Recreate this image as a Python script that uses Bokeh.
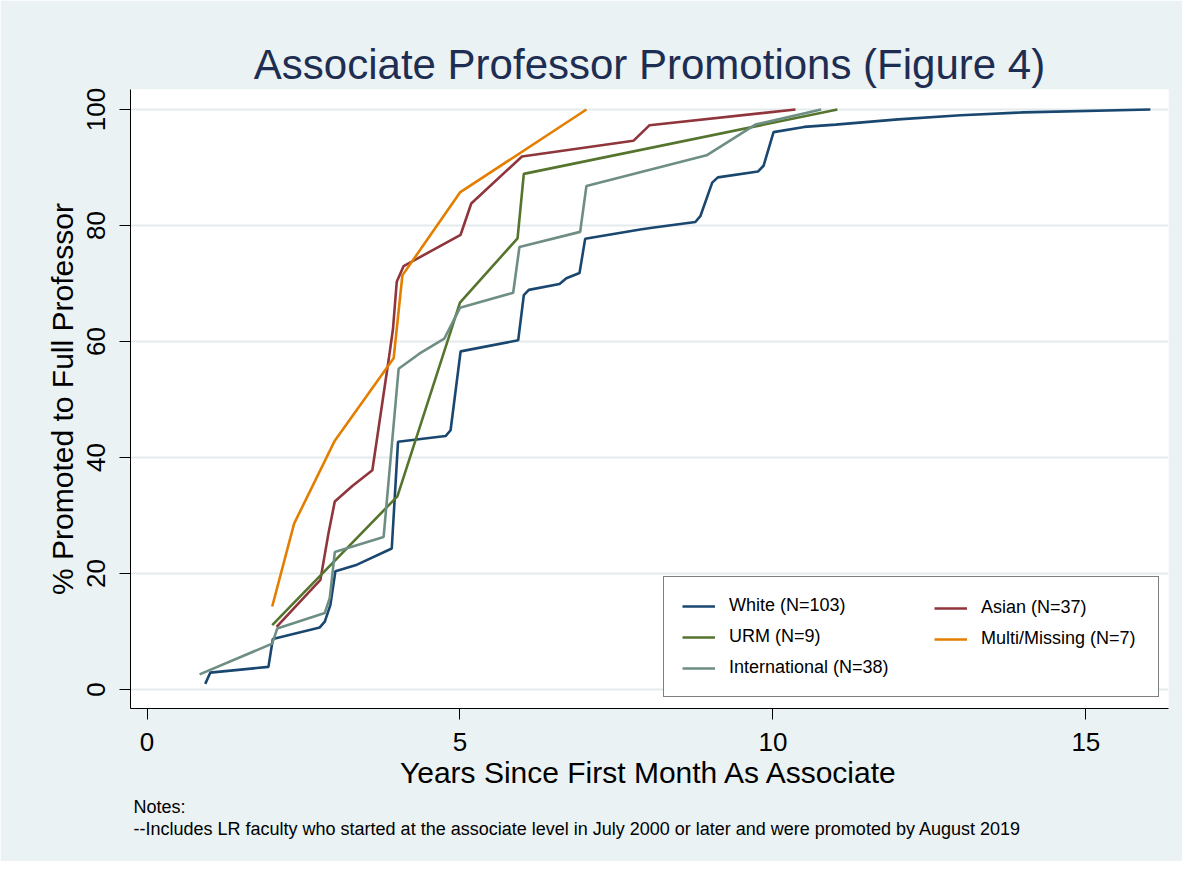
from bokeh.plotting import figure
from bokeh.models import Range1d, Legend, LegendItem, Title, FixedTicker
from bokeh.embed import file_html
from bokeh.resources import INLINE

# ---------------- data ----------------
white_x = [0.93, 1.01, 1.94, 2.01, 2.76, 2.84, 2.93, 3.01, 3.33, 3.91, 4.01, 4.77, 4.85,
           5.01, 5.93, 6.02, 6.10, 6.59, 6.70, 6.91, 7.00, 7.88, 8.07, 8.76, 8.84, 9.03,
           9.12, 9.76, 9.85, 10.01, 10.5, 11.0, 12.0, 13.0, 14.0, 16.03]
white_y = [0.97, 2.9, 3.9, 8.7, 10.7, 11.7, 14.6, 20.4, 21.4, 24.3, 42.7, 43.7, 44.7,
           58.3, 60.2, 68.0, 68.9, 69.9, 70.9, 71.8, 77.7, 79.3, 79.6, 80.6, 81.6, 87.4,
           88.3, 89.3, 90.3, 96.1, 97.0, 97.4, 98.3, 99.0, 99.5, 100.0]

asian_x = [2.07, 2.77, 2.90, 3.00, 3.28, 3.60, 3.86, 3.93, 3.99, 4.10, 5.01, 5.18, 5.99,
           7.77, 8.03, 10.36]
asian_y = [10.8, 18.9, 27.0, 32.4, 35.1, 37.8, 56.8, 62.2, 70.3, 73.0, 78.4, 83.8, 91.9,
           94.6, 97.3, 100.0]

urm_x = [2.00, 4.00, 5.00, 5.92, 6.02, 11.03]
urm_y = [11.1, 33.3, 66.7, 77.8, 88.9, 100.0]

multi_x = [2.00, 2.35, 3.00, 3.94, 4.08, 5.00, 7.02]
multi_y = [14.3, 28.6, 42.9, 57.1, 71.4, 85.7, 100.0]

intl_x = [0.84, 2.00, 2.08, 2.84, 2.92, 3.00, 3.78, 4.02, 4.35, 4.75, 5.00, 5.85, 5.95,
          6.92, 7.02, 8.94, 9.72, 10.77]
intl_y = [2.6, 7.9, 10.5, 13.2, 15.8, 23.7, 26.3, 55.3, 57.9, 60.5, 65.8, 68.4, 76.3,
          78.9, 86.8, 92.1, 97.4, 100.0]

series_names = ["White (N=103)", "Asian (N=37)", "URM (N=9)", "Multi/Missing (N=7)",
                "International (N=38)"]
x_ticks = [0, 5, 10, 15]
y_ticks = [0, 20, 40, 60, 80, 100]

title_text = "Associate Professor Promotions (Figure 4)"
x_title = "Years Since First Month As Associate"
y_title = "% Promoted to Full Professor"
note_lines = ["Notes:",
              "--Includes LR faculty who started at the associate level in July 2000 or later and were promoted by August 2019"]

# ---------------- style ----------------
FONT = "Liberation Sans"
BG = "#eaf2f3"
colors = {"white": "#1a476f", "asian": "#90353b", "urm": "#55752f",
          "multi": "#e37e00", "intl": "#6e8e84"}
LW = 2.6

p = figure(width=1182, height=861, output_backend="svg", toolbar_location=None,
           x_range=Range1d(-0.264, 16.32), y_range=Range1d(-3.28, 103.45),
           min_border_left=130, min_border_right=14, min_border_top=89,
           min_border_bottom=153)
p.border_fill_color = BG
p.background_fill_color = "white"
p.outline_line_color = None

# title
p.title.text = title_text
p.title.align = "center"
p.title.text_font = FONT
p.title.text_font_size = "42px"
p.title.text_font_style = "normal"
p.title.text_color = "#1e2d52"
p.title.standoff = 3

# grid
p.xgrid.visible = False
p.ygrid.grid_line_color = "#e3ebed"
p.ygrid.grid_line_width = 2

# axes
p.xaxis.ticker = FixedTicker(ticks=x_ticks)
p.yaxis.ticker = FixedTicker(ticks=y_ticks)
p.ygrid.ticker = FixedTicker(ticks=y_ticks)
for ax in (p.xaxis[0], p.yaxis[0]):
    ax.axis_line_color = "black"
    ax.axis_line_width = 1
    ax.major_tick_line_color = "black"
    ax.major_tick_line_width = 1
    ax.major_tick_out = 11
    ax.major_tick_in = 0
    ax.minor_tick_line_color = None
    ax.major_label_text_font = FONT
    ax.major_label_text_font_size = "26px"
    ax.major_label_text_color = "black"
    ax.axis_label_text_font = FONT
    ax.axis_label_text_font_size = "30px"
    ax.axis_label_text_font_style = "normal"
    ax.axis_label_text_color = "black"

p.xaxis.axis_label = x_title
p.yaxis.axis_label = y_title
p.xaxis.major_label_standoff = 13
p.xaxis.axis_label_standoff = 2
p.yaxis.major_label_orientation = "vertical"
p.yaxis.major_label_standoff = 14
p.yaxis.axis_label_standoff = 6

# lines
r_white = p.line(white_x, white_y, line_color=colors["white"], line_width=LW)
r_asian = p.line(asian_x, asian_y, line_color=colors["asian"], line_width=LW)
r_urm = p.line(urm_x, urm_y, line_color=colors["urm"], line_width=LW)
r_multi = p.line(multi_x, multi_y, line_color=colors["multi"], line_width=LW)
r_intl = p.line(intl_x, intl_y, line_color=colors["intl"], line_width=LW)

common = dict(orientation="vertical", padding=18, spacing=10, glyph_width=33,
              glyph_height=20, label_height=20, label_standoff=14, margin=0,
              label_text_font=FONT, label_text_font_size="18px",
              label_text_color="black")
leg1 = Legend(items=[LegendItem(label=series_names[0], renderers=[r_white]),
                     LegendItem(label=series_names[2], renderers=[r_urm]),
                     LegendItem(label=series_names[4], renderers=[r_intl])],
              location=(533, 11), label_width=411,
              border_line_color="black", border_line_width=1,
              background_fill_color="white", background_fill_alpha=1.0, **common)
leg2 = Legend(items=[LegendItem(label=series_names[1], renderers=[r_asian]),
                     LegendItem(label=series_names[3], renderers=[r_multi])],
              location=(786, 41), border_line_alpha=0.0,
              background_fill_alpha=0.0, **common)
p.add_layout(leg1)
p.add_layout(leg2)

# notes below the x axis
for i, line in enumerate(note_lines):
    p.add_layout(Title(text=line, align="left", offset=3, standoff=6 if i == 0 else -5,
                       text_font=FONT, text_font_size="18px", text_font_style="normal",
                       text_color="black"), "below")

open("out.html", "w").write(file_html(p, INLINE))
